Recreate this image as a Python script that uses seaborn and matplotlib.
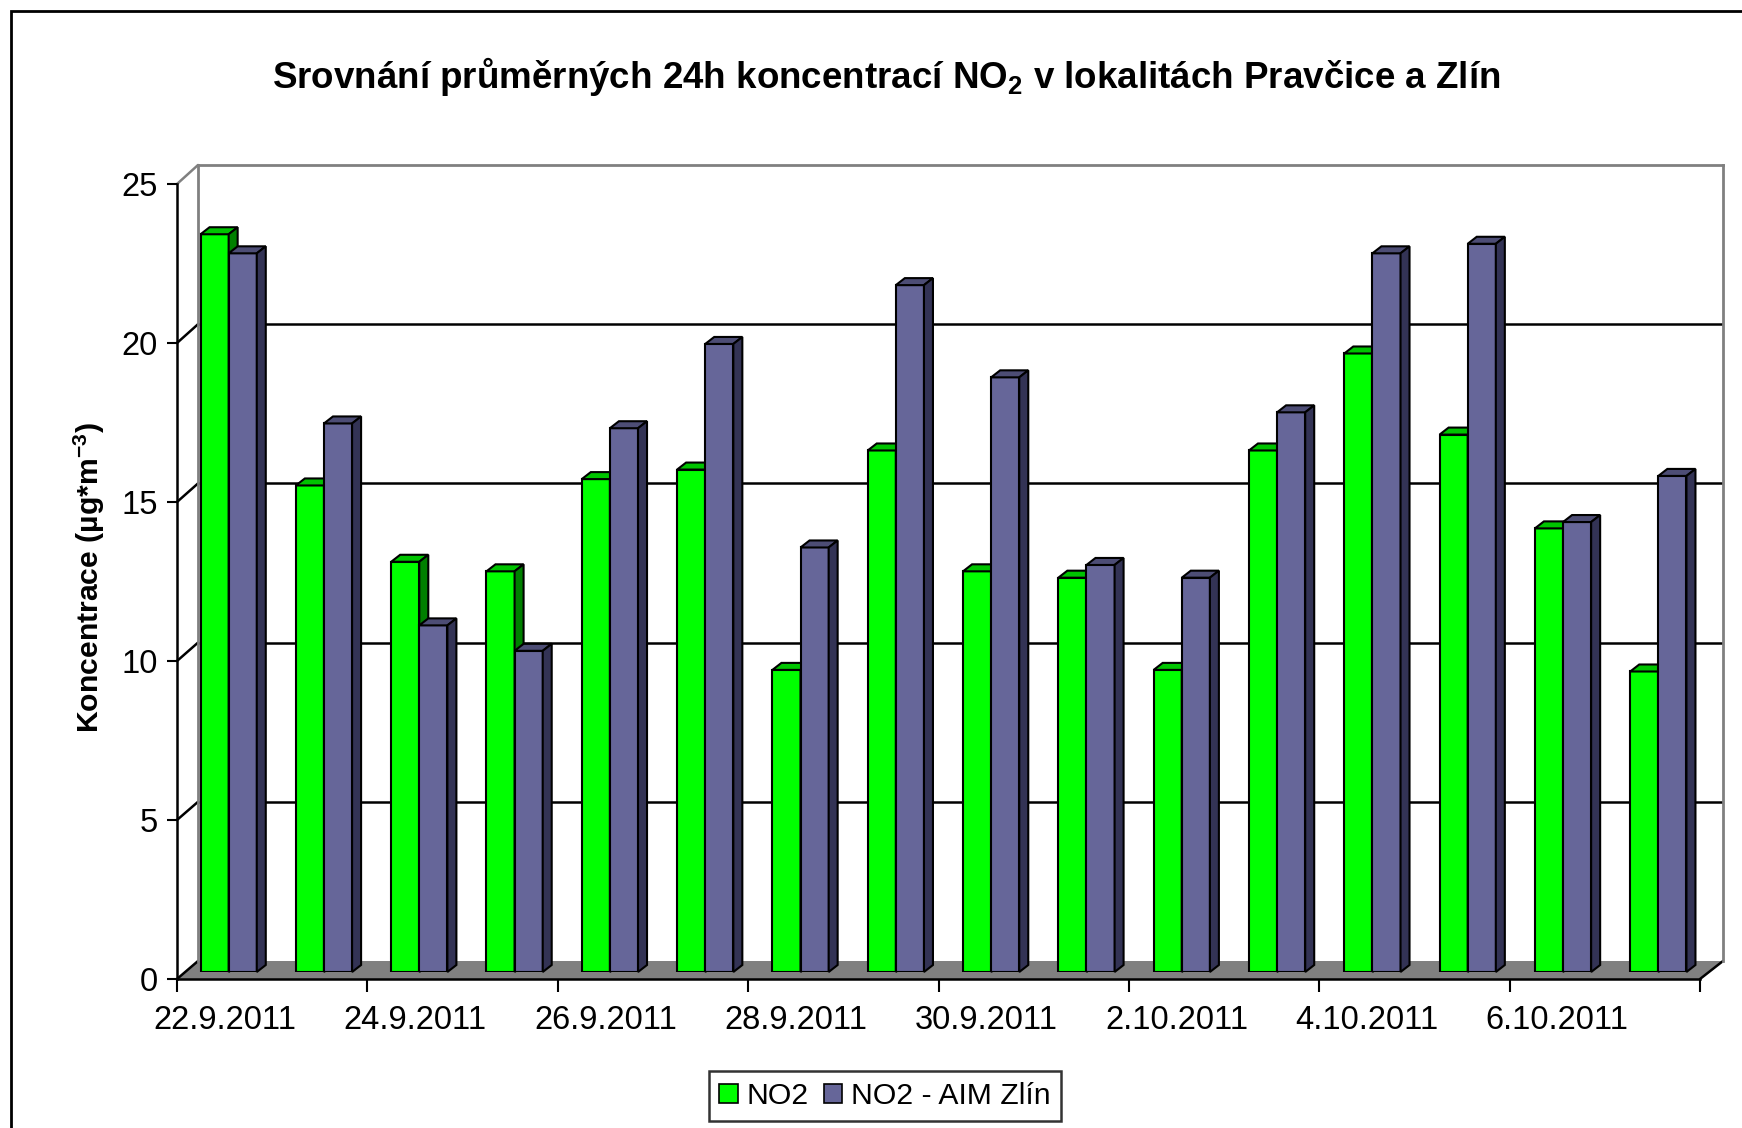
import numpy as np
import pandas as pd
import seaborn as sns
import matplotlib.pyplot as plt
from matplotlib.patches import Polygon, Rectangle, Patch
from matplotlib.lines import Line2D

# data
dates = ['22.9.2011', '23.9.2011', '24.9.2011', '25.9.2011', '26.9.2011', '27.9.2011',
         '28.9.2011', '29.9.2011', '30.9.2011', '1.10.2011', '2.10.2011', '3.10.2011',
         '4.10.2011', '5.10.2011', '6.10.2011', '7.10.2011']
no2_pravcice = [23.2, 15.3, 12.9, 12.6, 15.5, 15.8, 9.5, 16.4, 12.6, 12.4, 9.5, 16.4,
                19.45, 16.9, 13.95, 9.45]
no2_zlin = [22.6, 17.25, 10.9, 10.1, 17.1, 19.75, 13.35, 21.6, 18.7, 12.8, 12.4, 17.6,
            22.6, 22.9, 14.15, 15.6]
series = ['NO2', 'NO2 - AIM Zlín']
yticks = [0, 5, 10, 15, 20, 25]

W, H = 1742, 1128
FRONT = '#00FF00', '#666699'
TOP = '#00C400', '#4D4D75'
SIDE = '#008000', '#333355'

sns.set_style('white')
plt.rcParams['font.family'] = ['Liberation Sans', 'DejaVu Sans']
plt.rcParams['text.color'] = 'black'
plt.rcParams['axes.labelcolor'] = 'black'
plt.rcParams['xtick.color'] = 'black'
plt.rcParams['ytick.color'] = 'black'
plt.rcParams['mathtext.fontset'] = 'custom'
plt.rcParams['mathtext.rm'] = 'Liberation Sans'
plt.rcParams['mathtext.bf'] = 'Liberation Sans:bold'
plt.rcParams['mathtext.it'] = 'Liberation Sans:italic'


def fx(px):
    return px / W


def fy(py):
    return 1 - py / H


df = pd.DataFrame({
    'date': dates * 2,
    'series': [series[0]] * len(dates) + [series[1]] * len(dates),
    'value': no2_pravcice + no2_zlin,
})

fig = plt.figure(figsize=(W / 100, H / 100), dpi=100)
fig.patch.set_facecolor('white')

# three planes of the fake 3D chart: back wall, bar plane, front axis
ax_back = fig.add_axes([fx(198), fy(961), 1525 / W, 796 / H])
ax_bar = fig.add_axes([fx(181), fy(972), 1525 / W, 795 / H])
ax_front = fig.add_axes([fx(177), fy(979), 1523 / W, 795 / H])

for ax in (ax_back, ax_bar, ax_front):
    ax.set_xlim(-0.5, len(dates) - 0.5)
    ax.set_ylim(0, 25)
    ax.patch.set_visible(False)

# back wall
for s in ('left', 'top', 'right'):
    ax_back.spines[s].set_color('#808080')
    ax_back.spines[s].set_linewidth(2)
ax_back.spines['bottom'].set_visible(False)
ax_back.set_xticks([])
ax_back.set_yticks([])
for v in yticks[1:-1]:
    ax_back.axhline(v, color='black', lw=1.8)

to_fig = fig.transFigure.inverted()


def pt(ax, x, y):
    return to_fig.transform(ax.transData.transform((x, y)))


# floor
x0, x1 = -0.5, len(dates) - 0.5
floor = [pt(ax_front, x0, 0), pt(ax_front, x1, 0), pt(ax_back, x1, 0), pt(ax_back, x0, 0)]
ax_back.add_patch(Polygon(floor, closed=True, facecolor='#808080', edgecolor='none',
                          transform=fig.transFigure, clip_on=False))
a, b = pt(ax_front, x1, 0), pt(ax_back, x1, 0)
ax_back.add_line(Line2D([a[0], b[0]], [a[1], b[1]], color='black', lw=1.8,
                        transform=fig.transFigure, clip_on=False))

# left wall diagonals
for v in yticks:
    a, b = pt(ax_front, x0, v), pt(ax_back, x0, v)
    c = '#808080' if v == 25 else 'black'
    ax_back.add_line(Line2D([a[0], b[0]], [a[1], b[1]], color=c, lw=1.8,
                            transform=fig.transFigure, clip_on=False))

# bars
sns.barplot(data=df, x='date', y='value', hue='series', order=dates, hue_order=series,
            palette=dict(zip(series, FRONT)), saturation=1, width=0.59, ax=ax_bar,
            legend=False, edgecolor='black', linewidth=1.5)
ax_bar.set_xlim(-0.5, len(dates) - 0.5)
ax_bar.set_ylim(0, 25)
ax_bar.axis('off')

ddx = 9 * len(dates) / 1525
ddy = 7 * 25 / 795
for k, cont in enumerate(ax_bar.containers):
    z = 2 + k
    for r in cont:
        r.set_zorder(z)
        bx, bw, bh = r.get_x(), r.get_width(), r.get_height()
        top = [(bx, bh), (bx + bw, bh), (bx + bw + ddx, bh + ddy), (bx + ddx, bh + ddy)]
        side = [(bx + bw, 0), (bx + bw + ddx, ddy), (bx + bw + ddx, bh + ddy), (bx + bw, bh)]
        ax_bar.add_patch(Polygon(top, closed=True, facecolor=TOP[k], edgecolor='black',
                                 lw=1.5, zorder=z, clip_on=False))
        ax_bar.add_patch(Polygon(side, closed=True, facecolor=SIDE[k], edgecolor='black',
                                 lw=1.5, zorder=z, clip_on=False))

# front axes
for s in ('top', 'right'):
    ax_front.spines[s].set_visible(False)
for s in ('left', 'bottom'):
    ax_front.spines[s].set_color('black')
    ax_front.spines[s].set_linewidth(1.8)
ax_front.set_yticks(yticks)
ax_front.set_yticklabels([str(v) for v in yticks])
ax_front.tick_params(axis='y', length=7, width=1.5, pad=7, labelsize=23.5, colors='black',
                     left=True, direction='out')
ax_front.set_xticks(np.arange(-0.5, len(dates), 2))
ax_front.set_xticklabels([])
ax_front.tick_params(axis='x', which='major', length=9, width=1.5, bottom=True,
                     direction='out', colors='black')
ax_front.set_xticks(np.arange(0, len(dates), 2), minor=True)
ax_front.set_xticklabels(dates[::2], minor=True)
ax_front.tick_params(axis='x', which='minor', length=0, pad=19, labelsize=23.5,
                     colors='black')

# texts
fig.text(fx(886), fy(76),
         'Srovnání průměrných 24h koncentrací NO$_\\mathbf{2}$ v lokalitách Pravčice a Zlín',
         ha='center', va='center', fontsize=26.5, fontweight='bold', color='black')
fig.text(fx(89), fy(578), 'Koncentrace (µg*m$^{\\mathbf{-3}}$)', rotation=90,
         ha='center', va='center', fontsize=21.7, fontweight='bold', color='black')

handles = [Patch(facecolor=FRONT[i], edgecolor='black', lw=1.2) for i in range(2)]
leg = fig.legend(handles, series, loc='center', bbox_to_anchor=(fx(885), fy(1096)),
                 ncol=2, fontsize=21.7, frameon=True, fancybox=False, edgecolor='black',
                 handlelength=0.6, handleheight=0.6, handletextpad=0.3,
                 columnspacing=0.5, borderpad=0.35, borderaxespad=0)
leg.get_frame().set_linewidth(1.8)

# outer frame
fig.add_artist(Rectangle((fx(11), -0.05), 1.1, fy(11) + 0.05, transform=fig.transFigure,
                         fill=False, edgecolor='black', lw=2, zorder=-5))

fig.savefig('out.png', dpi=100, facecolor='white')
